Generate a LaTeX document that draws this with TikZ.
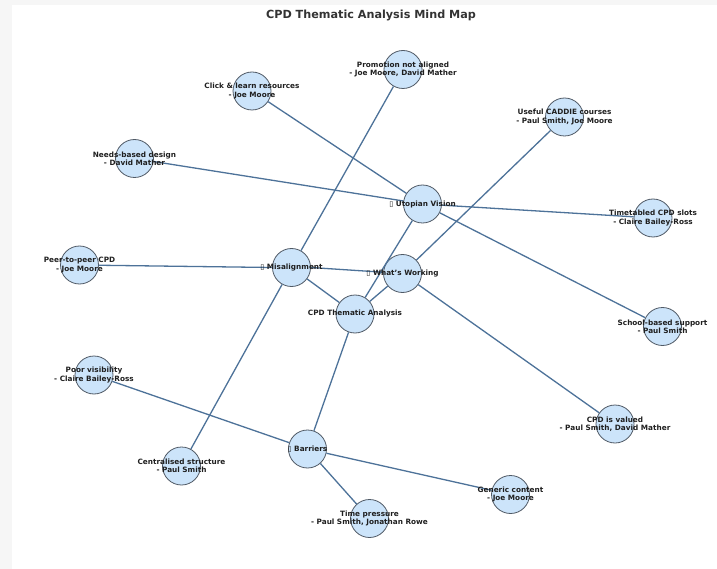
\documentclass[tikz,border=0pt]{standalone}
\usepackage{fontspec}
\setmainfont{DejaVu Sans}
\usepackage{tikz}
\usetikzlibrary{positioning}

\definecolor{nodefill}{HTML}{CCE4FA}
\definecolor{nodeline}{HTML}{505A66}
\definecolor{edgeblue}{HTML}{4D7299}
\definecolor{titlegrey}{HTML}{333333}
\definecolor{framegrey}{HTML}{F6F6F6}

\newcommand{\tofu}{{\mdseries\char"25AF}}

\tikzset{
  theme/.style={circle, draw=nodeline, line width=0.8pt, fill=nodefill,
    minimum size=38pt, inner sep=0pt},
  themetext/.style={align=center, inner sep=0pt, text=black!88,
    font=\fontsize{7.3}{8.4}\selectfont\bfseries},
  link/.style={draw=edgeblue, line width=1.3pt},
}

\begin{document}
\begin{tikzpicture}[x=1pt,y=-1pt]
        \useasboundingbox (0,0) rectangle (717,569);
        \fill[framegrey] (0,0) rectangle (717,569);
        \fill[white] (12,5) rectangle (717,569);

        \node[font=\fontsize{11.2}{13}\selectfont\bfseries, text=titlegrey] (title) at (371,15) {CPD Thematic Analysis Mind Map};

        % centre and the four themes
        \node[theme] (cpd) at (355,314) {};
        \node[theme] (utopia) at (422.5,204) {};
        \node[theme] (misalign) at (291.5,267.5) {};
        \node[theme] (working) at (402.5,273.5) {};
        \node[theme] (barriers) at (307.5,449) {};

        % sub themes
        \node[theme] (promotion) at (403,69.5) {};
        \node[theme] (clicklearn) at (252,91) {};
        \node[theme] (caddie) at (564.5,117) {};
        \node[theme] (needs) at (134.5,158.5) {};
        \node[theme] (timetabled) at (653,218) {};
        \node[theme] (peer) at (79.5,265) {};
        \node[theme] (school) at (662.5,326.5) {};
        \node[theme] (visibility) at (94,375) {};
        \node[theme] (valued) at (615,424) {};
        \node[theme] (central) at (181.5,466) {};
        \node[theme] (generic) at (510.5,494.5) {};
        \node[theme] (pressure) at (369.5,518.5) {};

        \draw[link] (cpd) -- (utopia);
        \draw[link] (cpd) -- (misalign);
        \draw[link] (cpd) -- (working);
        \draw[link] (cpd) -- (barriers);

        \draw[link] (utopia) -- (clicklearn);
        \draw[link] (utopia) -- (needs);
        \draw[link] (utopia) -- (timetabled);
        \draw[link] (utopia) -- (school);

        \draw[link] (misalign) -- (promotion);
        \draw[link] (misalign) -- (central);

        \draw[link] (working) -- (misalign.east);
        \draw[link] (misalign.west) -- (peer);
        \draw[link] (working) -- (caddie);
        \draw[link] (working) -- (valued);

        \draw[link] (barriers) -- (visibility);
        \draw[link] (barriers) -- (generic);
        \draw[link] (barriers) -- (pressure);

        % texts on top
        \node[themetext] (cpd-t) at (cpd) {CPD Thematic Analysis};
        \node[themetext] (utopia-t) at (utopia) {\tofu\ Utopian Vision};
        \node[themetext] (misalign-t) at (misalign) {\tofu\ Misalignment};
        \node[themetext] (working-t) at (working) {\tofu\ What's Working};
        \node[themetext] (barriers-t) at (barriers) {\tofu\ Barriers};

        \node[themetext] (promotion-t) at (promotion) {Promotion not aligned\\- Joe Moore, David Mather};
        \node[themetext] (clicklearn-t) at (clicklearn) {Click \& learn resources\\- Joe Moore};
        \node[themetext] (caddie-t) at (caddie) {Useful CADDIE courses\\- Paul Smith, Joe Moore};
        \node[themetext] (needs-t) at (needs) {Needs-based design\\- David Mather};
        \node[themetext] (timetabled-t) at (timetabled) {Timetabled CPD slots\\- Claire Bailey-Ross};
        \node[themetext] (peer-t) at (peer) {Peer-to-peer CPD\\- Joe Moore};
        \node[themetext] (school-t) at (school) {School-based support\\- Paul Smith};
        \node[themetext] (visibility-t) at (visibility) {Poor visibility\\- Claire Bailey-Ross};
        \node[themetext] (valued-t) at (valued) {CPD is valued\\- Paul Smith, David Mather};
        \node[themetext] (central-t) at (central) {Centralised structure\\- Paul Smith};
        \node[themetext] (generic-t) at (generic) {Generic content\\- Joe Moore};
        \node[themetext] (pressure-t) at (pressure) {Time pressure\\- Paul Smith, Jonathan Rowe};
      \end{tikzpicture}
\end{document}
